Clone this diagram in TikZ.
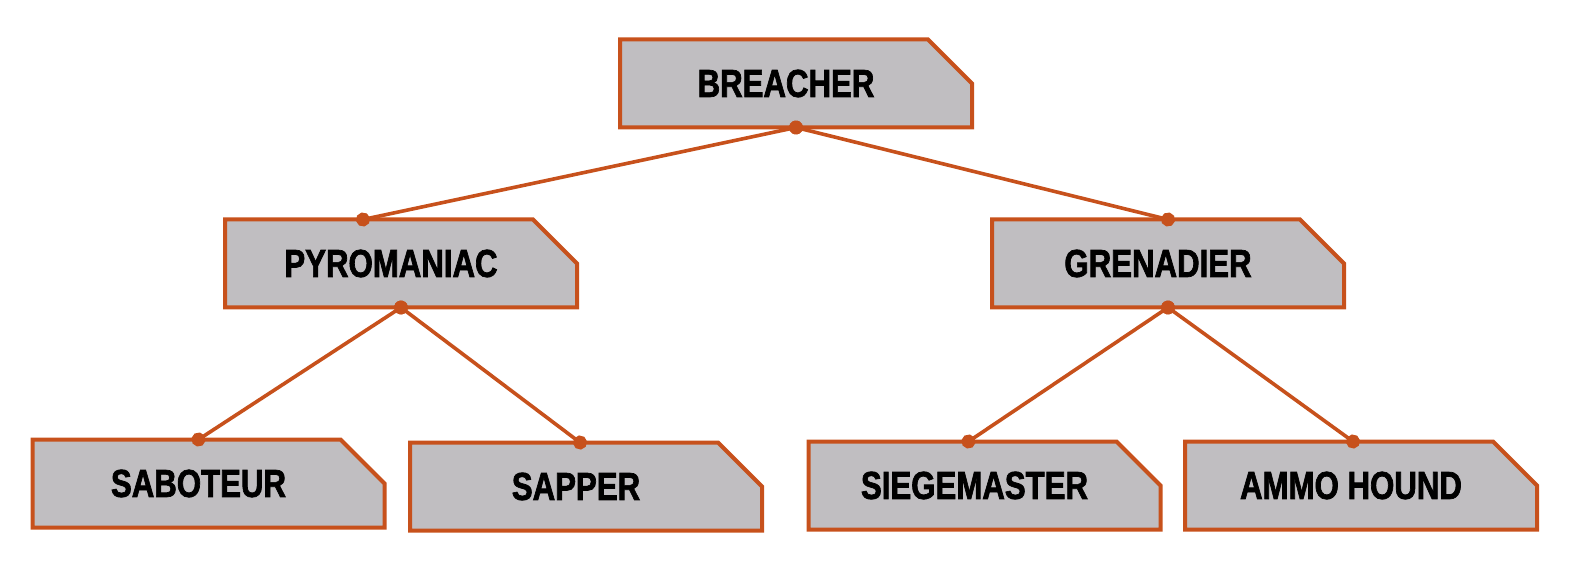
\documentclass[tikz,border=0pt]{standalone}
\usepackage{fontspec}
\newfontfamily\stencilfont{Liberation Sans}[FakeStretch=0.8, FakeBold=1.8]
\usetikzlibrary{backgrounds,arrows.meta}
\definecolor{rustline}{RGB}{199,81,28}
\definecolor{steelfill}{RGB}{192,190,193}
\tikzset{
  role/.style={rectangle, minimum width=176pt, minimum height=44pt,
    inner sep=0pt, outer sep=0pt,
    font=\stencilfont\bfseries\fontsize{19.5}{19.5}\selectfont,
    execute at end node={\hspace*{10pt}}},
  plate/.style={draw=rustline, fill=steelfill, line width=2pt},
  link/.style={draw=rustline, line width=1.8pt,
    {Circle[length=7pt]}-{Circle[length=7pt]},
    shorten <=-3.5pt, shorten >=-3.5pt},
}
\begin{document}
\begin{tikzpicture}[x=0.5pt, y=-0.5pt]
    \useasboundingbox (0, 0) rectangle (1575, 572);

    \draw (796, 83.5) node [role] (breacher) {BREACHER};

    \draw (401, 263.5) node [role] (pyro) {PYROMANIAC};
    \draw (1168, 263.5) node [role] (gren) {GRENADIER};

    \draw (208.5, 483.5) node [role] (sab) {SABOTEUR};
    \draw (586, 486.5) node [role] (sap) {SAPPER};
    \draw (984.5, 485.5) node [role] (siege) {SIEGEMASTER};
    \draw (1361, 485.5) node [role] (ammo) {AMMO HOUND};

    % cut-corner plates behind the labels
    \begin{scope}[on background layer]
      \foreach \n in {breacher, pyro, gren, sab, sap, siege, ammo}
        \draw [plate] (\n.north west) -- ([xshift=-22pt]\n.north east)
              -- ([yshift=-22pt]\n.north east) -- (\n.south east)
              -- (\n.south west) -- cycle;
    \end{scope}

    \draw [link] (breacher.south) -- ([xshift=-19pt]pyro.north);
    \draw [link] (breacher.south) -- (gren.north);
    \draw [link] (pyro.south) -- ([xshift=-5pt]sab.north);
    \draw [link] (pyro.south) -- ([xshift=-3pt]sap.north);
    \draw [link] (gren.south) -- ([xshift=-8pt]siege.north);
    \draw [link] (gren.south) -- ([xshift=-4pt]ammo.north);
\end{tikzpicture}
\end{document}
